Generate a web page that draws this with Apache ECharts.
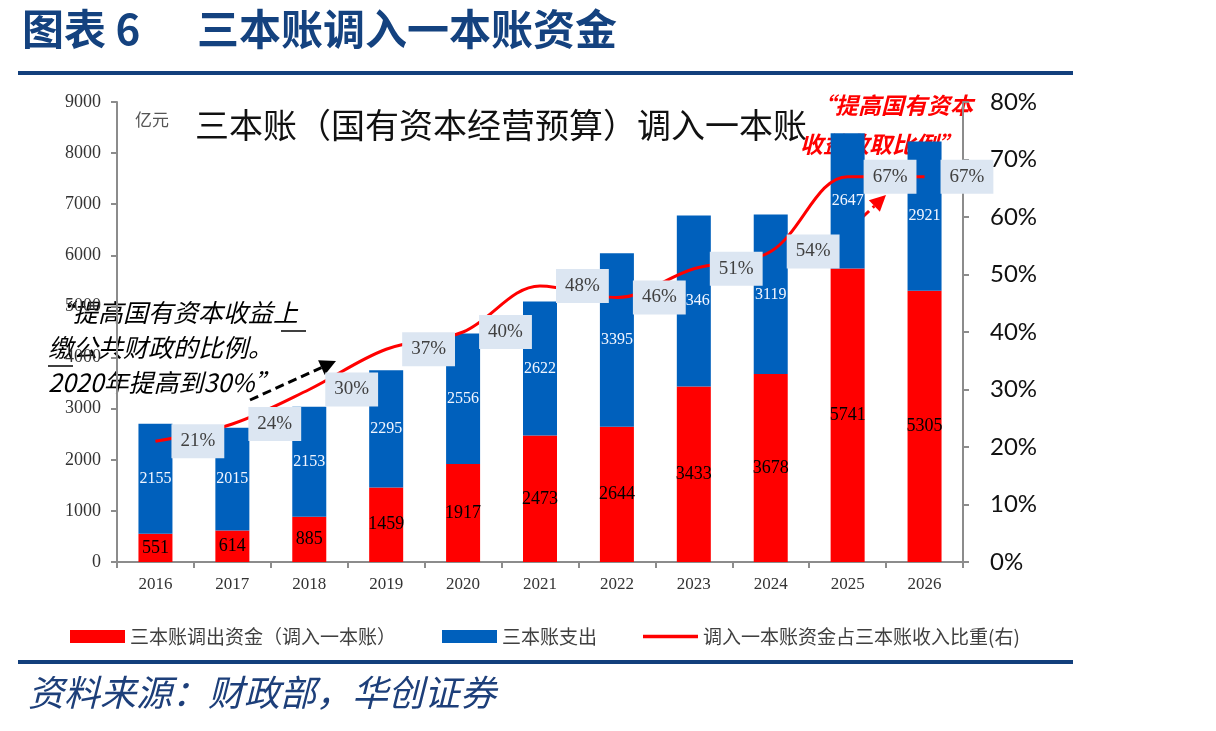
<!DOCTYPE html>
<html><head><meta charset="utf-8">
<script src="https://cdn.jsdelivr.net/npm/echarts@6/dist/echarts.min.js"></script>
<style>html,body{margin:0;padding:0;background:#fff}#c{width:1216px;height:731px}</style>
</head><body><div id="c"></div>
<script>
const categories = ['2016','2017','2018','2019','2020','2021','2022','2023','2024','2025','2026'];
const transferOut = [551, 614, 885, 1459, 1917, 2473, 2644, 3433, 3678, 5741, 5305];
const expenditure = [2155, 2015, 2153, 2295, 2556, 2622, 3395, 3346, 3119, 2647, 2921];
const ratioPct = [21, 24, 30, 37, 40, 48, 46, 51, 54, 67, 67];
const leftTicks = {min: 0, max: 9000, interval: 1000};
const rightTicks = {min: 0, max: 80, interval: 10};

const CJK = '"Noto Sans CJK SC", sans-serif';
const SERIF = '"Liberation Serif", "DejaVu Serif", serif';
const chart = echarts.init(document.getElementById('c'));

function arrow(x1, y1, x2, y2, color, w) {
  const ang = Math.atan2(y2 - y1, x2 - x1);
  const L = 16, H = 8;
  const bx = x2 - L * Math.cos(ang), by = y2 - L * Math.sin(ang);
  const px = -Math.sin(ang) * H, py = Math.cos(ang) * H;
  return [
    {type: 'line', shape: {x1: x1, y1: y1, x2: bx, y2: by}, style: {stroke: color, lineWidth: w, lineDash: [9, 5]}},
    {type: 'polygon', shape: {points: [[x2, y2], [bx + px, by + py], [bx - px, by - py]]}, style: {fill: color}}
  ];
}

const lineName = '调入一本账资金占三本账收入比重(右)';

chart.setOption({
  animation: false,
  backgroundColor: '#fff',
  grid: {left: 117, right: 253, top: 102, bottom: 169},
  legend: {
    left: 65, top: 622, itemWidth: 55, itemHeight: 13, itemGap: 46,
    textStyle: {fontFamily: CJK, fontSize: 19, color: '#404040'},
    data: [
      {name: '三本账调出资金（调入一本账）', icon: 'rect'},
      {name: '三本账支出', icon: 'rect'},
      {name: lineName, icon: 'path://M0,0 H55 V3.5 H0 Z'}
    ]
  },
  xAxis: {
    type: 'category', data: categories,
    axisLine: {lineStyle: {color: '#8c8c8c', width: 2}},
    axisTick: {show: true, length: 6, lineStyle: {color: '#8c8c8c', width: 2}},
    axisLabel: {fontFamily: SERIF, fontSize: 17, color: '#333', margin: 14}
  },
  yAxis: [
    {
      type: 'value', min: leftTicks.min, max: leftTicks.max, interval: leftTicks.interval,
      splitLine: {show: false},
      axisLine: {show: true, lineStyle: {color: '#8c8c8c', width: 2}},
      axisTick: {show: true, length: 6, lineStyle: {color: '#8c8c8c', width: 2}},
      axisLabel: {fontFamily: SERIF, fontSize: 18, color: '#333', margin: 16, formatter: v => String(v)}
    },
    {
      type: 'value', min: rightTicks.min, max: rightTicks.max, interval: rightTicks.interval,
      position: 'right', splitLine: {show: false},
      axisLine: {show: true, lineStyle: {color: '#8c8c8c', width: 2}},
      axisTick: {show: true, length: 6, lineStyle: {color: '#8c8c8c', width: 2}},
      axisLabel: {fontFamily: 'Lato, sans-serif', fontSize: 24, color: '#111', margin: 27, formatter: '{value}%'}
    }
  ],
  series: [
    {
      name: '三本账调出资金（调入一本账）', type: 'bar', stack: 'a', barWidth: 34,
      data: transferOut, itemStyle: {color: '#ff0000'},
      label: {show: true, position: 'inside', fontFamily: SERIF, fontSize: 18, color: '#000'}
    },
    {
      name: '三本账支出', type: 'bar', stack: 'a', barWidth: 34,
      data: expenditure, itemStyle: {color: '#0060bc'},
      label: {show: true, position: 'inside', fontFamily: SERIF, fontSize: 16, color: '#f2f6ff'}
    },
    {
      name: lineName, type: 'line', yAxisIndex: 1, smooth: 0.35,
      data: ratioPct, symbol: 'none', lineStyle: {color: '#ff0000', width: 3}, itemStyle: {color: '#ff0000'},
      z: 5
    },
    {
      name: 'ratioLabels', type: 'scatter', yAxisIndex: 1, data: ratioPct,
      symbolSize: 0, itemStyle: {color: '#ff0000'}, z: 6, silent: true,
      label: {
        show: true, position: 'right', distance: 16, formatter: '{c}%', opacity: 1,
        fontFamily: SERIF, fontSize: 19, color: '#404040',
        backgroundColor: '#dce6f2', padding: [8, 9, 7, 9]
      }
    }
  ],
  graphic: [
    {type: 'text', left: 22, top: 8, style: {text: '图表 6', font: 'bold 42px ' + CJK, fill: '#14427f'}},
    {type: 'text', left: 197, top: 8, style: {text: '三本账调入一本账资金', font: 'bold 42px ' + CJK, fill: '#14427f'}},
    {type: 'rect', shape: {x: 18, y: 71, width: 1055, height: 4}, style: {fill: '#123f7c'}},
    {type: 'rect', shape: {x: 18, y: 660, width: 1055, height: 4}, style: {fill: '#123f7c'}},
    {type: 'text', left: 28, top: 674, style: {text: '资料来源：财政部，华创证券', font: 'italic 36px ' + CJK, fill: '#1d3f7a'}},
    {type: 'text', left: 135, top: 111, style: {text: '亿元', font: '17px ' + CJK, fill: '#555'}},
    {type: 'text', left: 195, top: 108, style: {text: '三本账（国有资本经营预算）调入一本账', font: '34px ' + CJK, fill: '#111'}},
    {type: 'text', left: 48, top: 300, style: {text: '“提高国有资本收益上', font: 'italic 25px ' + CJK, fill: '#000'}},
    {type: 'line', shape: {x1: 281, y1: 331, x2: 306, y2: 331}, style: {stroke: '#000', lineWidth: 1.5}},
    {type: 'text', left: 48, top: 335, style: {text: '缴公共财政的比例。', font: 'italic 25px ' + CJK, fill: '#000'}},
    {type: 'line', shape: {x1: 48, y1: 366, x2: 73, y2: 366}, style: {stroke: '#000', lineWidth: 1.5}},
    {type: 'text', left: 48, top: 370, style: {text: '2020年提高到30%”', font: 'italic 25px ' + CJK, fill: '#000'}},
    {type: 'text', left: 812, top: 94, style: {text: '“提高国有资本', font: 'italic bold 23px ' + CJK, fill: '#ff0000'}},
    {type: 'text', left: 800, top: 133, style: {text: '收益收取比例”', font: 'italic bold 23px ' + CJK, fill: '#ff0000'}}
  ].concat(arrow(250, 400, 336, 361, '#000', 3)).concat(arrow(832, 246, 886, 195, '#ff0000', 3))
});
</script></body></html>
